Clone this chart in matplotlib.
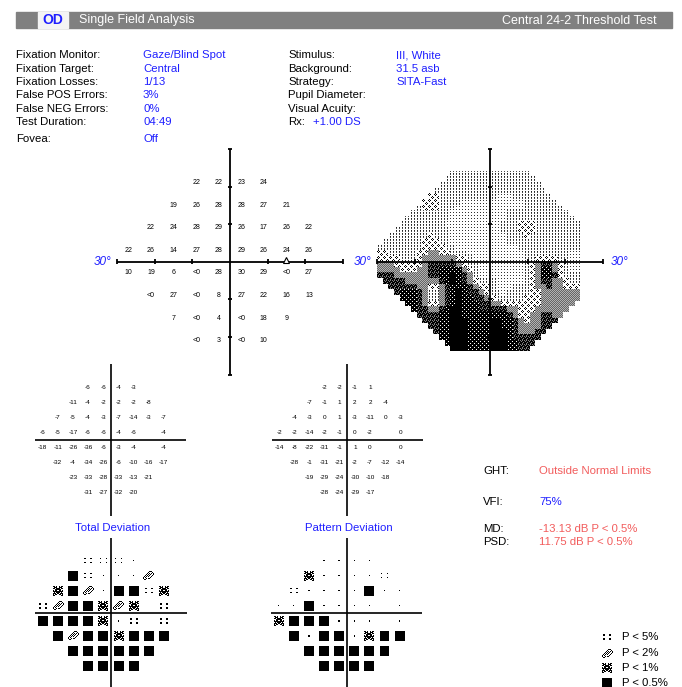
import numpy as np
import matplotlib
matplotlib.use('Agg')
import matplotlib.pyplot as plt
from matplotlib.patches import Rectangle
from matplotlib.collections import PatchCollection

plt.rcParams['font.family'] = ['Liberation Sans', 'DejaVu Sans']

W, H = 682, 687
fig = plt.figure(figsize=(W / 100, H / 100), dpi=100)
BLUE = '#1f1fff'
RED = '#f25c5c'

# ---------------- data ----------------
ROW_Y = [21, 15, 9, 3, -3, -9, -15, -21]
ROW_X0 = [-9, -15, -21, -27, -27, -21, -15, -9]

# threshold values in dB (-1 means "<0")
threshold = [
    [22, 22, 23, 24],
    [19, 26, 28, 28, 27, 21],
    [22, 24, 28, 29, 26, 17, 26, 22],
    [22, 26, 14, 27, 28, 29, 26, 24, 26],
    [10, 19, 6, -1, 28, 30, 29, -1, 27],
    [-1, 27, -1, 8, 27, 22, 16, 13],
    [7, -1, 4, -1, 18, 9],
    [-1, 3, -1, 10],
]
total_dev = [
    [-6, -6, -4, -3],
    [-11, -4, -2, -2, -2, -8],
    [-7, -5, -4, -3, -7, -14, -3, -7],
    [-6, -5, -17, -6, -6, -4, -6, None, -4],
    [-18, -11, -26, -36, -6, -3, -4, None, -4],
    [-32, -4, -34, -26, -6, -10, -16, -17],
    [-23, -33, -28, -33, -13, -21],
    [-31, -27, -32, -20],
]
pattern_dev = [
    [-2, -2, -1, 1],
    [-7, -1, 1, 2, 2, -4],
    [-4, -3, 0, 1, -3, -11, 0, -3],
    [-2, -2, -14, -2, -1, 0, -2, None, 0],
    [-14, -8, -22, -31, -1, 1, 0, None, 0],
    [-28, -1, -31, -21, -2, -7, -12, -14],
    [-19, -29, -24, -30, -10, -18],
    [-28, -24, -29, -17],
]
# probability codes: 0 normal, 1 P<5%, 2 P<2%, 3 P<1%, 4 P<0.5%
total_prob = [
    [1, 1, 1, 0],
    [4, 1, 0, 0, 0, 2],
    [3, 4, 2, 0, 4, 4, 1, 3],
    [1, 2, 4, 4, 3, 2, 3, None, 1],
    [4, 4, 4, 4, 3, 0, 1, None, 1],
    [4, 2, 4, 4, 3, 4, 4, 4],
    [4, 4, 4, 4, 4, 4],
    [4, 4, 4, 4],
]
pattern_prob = [
    [0, 0, 0, 0],
    [3, 0, 0, 0, 0, 1],
    [1, 0, 0, 0, 0, 4, 0, 0],
    [0, 0, 4, 0, 0, 0, 0, None, 0],
    [3, 4, 4, 4, 0, 0, 0, None, 0],
    [4, 0, 4, 4, 0, 3, 4, 4],
    [4, 4, 4, 4, 4, 4],
    [4, 4, 4, 4],
]
legend_codes = [1, 2, 3, 4]
legend_labels = ['P < 5%', 'P < 2%', 'P < 1%', 'P < 0.5%']

left_labels = ['Fixation Monitor:', 'Fixation Target:', 'Fixation Losses:',
               'False POS Errors:', 'False NEG Errors:', 'Test Duration:', 'Fovea:']
left_values = ['Gaze/Blind Spot', 'Central', '1/13', '3%', '0%', '04:49', 'Off']
mid_labels = ['Stimulus:', 'Background:', 'Strategy:', 'Pupil Diameter:',
              'Visual Acuity:', 'Rx:']
mid_values = ['III, White', '31.5 asb', 'SITA-Fast', '', '', '']
rx_value = '+1.00 DS'


def field_points(rows):
    for r, (y, x0) in enumerate(zip(ROW_Y, ROW_X0)):
        for k, v in enumerate(rows[r]):
            yield x0 + 6 * k, y, v


def field_ax(cx, cy, half):
    ax = fig.add_axes([(cx - half) / W, 1 - (cy + half) / H, 2 * half / W, 2 * half / H])
    ax.set_xlim(-30, 30)
    ax.set_ylim(-30, 30)
    ax.set_axis_off()
    return ax


def cross(ax, lw, ticks=False, tl=0.6):
    kw = dict(color='black', lw=lw, clip_on=False, solid_capstyle='butt', zorder=5)
    ax.plot([-30, 30], [0, 0], **kw)
    ax.plot([0, 0], [-30, 30], **kw)
    if ticks:
        for t in [-30, -20, -10, 10, 20, 30]:
            ax.plot([t, t], [-tl, tl], **kw)
            ax.plot([-tl, tl], [t, t], **kw)


BITMAPS = {
    2: ["......###..",
        ".....#...#.",
        "....#.#.#.#",
        "...#.#.#..#",
        "..#.#.#..#.",
        ".#.#.#..#..",
        "#.#....#...",
        "#..#.##....",
        ".##........"],
    3: ["##.#..#.##",
        ".###..###.",
        "##.####.##",
        "..######..",
        "#.##..##.#",
        "##########",
        ".#.####.#.",
        "###.##.###",
        "#.##..##.#",
        "##......##"],
}


def symbol_rects(x, y, code, cell, sign=1):
    rects = []
    if code is None:
        return rects
    if code == 4:
        s = 10 * cell
        rects.append(Rectangle((x - s / 2, y - s / 2), s, s))
    elif code in (2, 3):
        bm = BITMAPS[code]
        nr, nc = len(bm), len(bm[0])
        for r, row in enumerate(bm):
            for c, ch in enumerate(row):
                if ch == '#':
                    cx = x + (c - (nc - 1) / 2) * cell
                    cy = y + sign * ((nr - 1) / 2 - r) * cell
                    rects.append(Rectangle((cx - cell / 2, cy - cell / 2), cell, cell))
    elif code == 1:
        d = 1.7 * cell
        for dx in (-3, 3):
            for dy in (-2, 2):
                rects.append(Rectangle((x + dx * cell - d / 2, y + dy * cell - d / 2), d, d))
    else:
        d = 1.4 * cell
        rects.append(Rectangle((x - d / 2, y - d / 2), d, d))
    return rects


# ---------------- page texts ----------------
page = fig.add_axes([0, 0, 1, 1])
page.set_xlim(0, W)
page.set_ylim(H, 0)
page.set_axis_off()

page.add_patch(Rectangle((16, 12), 656, 16, color='#808080'))
page.add_patch(Rectangle((38, 12), 30, 16, color='#f4f4f4'))
page.text(53, 20.5, 'OD', color=BLUE, fontsize=10, fontweight='bold', ha='center', va='center')
page.text(79, 20.5, 'Single Field Analysis', color='white', fontsize=9, va='center')
page.text(657, 20.5, 'Central 24-2 Threshold Test', color='white', fontsize=9,
          ha='right', va='center')

info_y = [55, 68.5, 82, 95.5, 109, 122, 139]
FS = 8.2
for yy, lab, val in zip(info_y, left_labels, left_values):
    page.text(16, yy, lab, fontsize=FS, va='center')
    page.text(143, yy, val, fontsize=FS, va='center', color=BLUE)
for yy, lab, val in zip(info_y, mid_labels, mid_values):
    page.text(288, yy, lab, fontsize=FS, va='center')
    if val:
        page.text(396, yy, val, fontsize=FS, va='center', color=BLUE)
page.text(313, info_y[5], rx_value, fontsize=FS, va='center', color=BLUE)

page.text(483, 471, 'GHT:', fontsize=FS, va='center')
page.text(539, 471, 'Outside Normal Limits', fontsize=FS, va='center', color=RED)
page.text(483, 502, 'VFI:', fontsize=FS, va='center')
page.text(539, 502, '75%', fontsize=FS, va='center', color=BLUE)
page.text(483, 529, 'MD:', fontsize=FS, va='center')
page.text(539, 529, '-13.13 dB P < 0.5%', fontsize=FS, va='center', color=RED)
page.text(483, 542, 'PSD:', fontsize=FS, va='center')
page.text(539, 542, '11.75 dB P < 0.5%', fontsize=FS, va='center', color=RED)

leg_y = [637, 653, 668, 683]
leg_rects = []
for yy, code, lab in zip(leg_y, legend_codes, legend_labels):
    leg_rects += symbol_rects(607, yy, code, 1.0, sign=-1)
    page.text(622, yy, lab, fontsize=FS, va='center')
page.add_collection(PatchCollection(leg_rects, facecolor='black', edgecolor='none'))

DEG_STYLE = dict(color=BLUE, fontsize=8.5, style='italic', va='center')

# ---------------- threshold plot ----------------
SC = 3.76
ax = field_ax(230, 261.7, 30 * SC)
cross(ax, 1.3, ticks=True)
for x, y, v in field_points(threshold):
    ax.text(x, y, '<0' if v < 0 else str(v), fontsize=5, ha='center', va='center')
ax.plot(15, 0.5, marker='^', ms=4, mfc='white', mec='black', mew=0.8, zorder=6)
ax.text(-31.5, 0, '30°', ha='right', **DEG_STYLE)

# ---------------- gray scale plot ----------------
axg = field_ax(490, 261.7, 30 * SC)
xs_lat = np.arange(-27, 28, 6)
ys_lat = np.arange(21, -22, -6)
grid = np.full((len(ys_lat), len(xs_lat)), np.nan)
for x, y, v in field_points(threshold):
    grid[list(ys_lat).index(y), list(xs_lat).index(x)] = max(v, -1)
known = ~np.isnan(grid)
ki, kj = np.nonzero(known)
for i, j in zip(*np.nonzero(~known)):
    d = (ki - i) ** 2 + (kj - j) ** 2
    near = d == d.min()
    grid[i, j] = grid[ki[near], kj[near]].max()

N = 226
cc = -30 + (np.arange(N) + 0.5) * 60 / N
B = 1.5
cb = (np.floor(cc / B) + 0.5) * B
X, Y = np.meshgrid(cb, cb[::-1])
fx = np.clip((X + 27) / 6, 0, 9)
fy = np.clip((21 - Y) / 6, 0, 7)
j0 = np.minimum(np.floor(fx).astype(int), 8)
i0 = np.minimum(np.floor(fy).astype(int), 6)
tx, ty = fx - j0, fy - i0
val = (grid[i0, j0] * (1 - tx) * (1 - ty) + grid[i0, j0 + 1] * tx * (1 - ty)
       + grid[i0 + 1, j0] * (1 - tx) * ty + grid[i0 + 1, j0 + 1] * tx * ty)
mask = (np.abs(Y) <= 24) & (X >= -30) & (X <= 24) & (np.abs(X) + np.abs(Y) <= 33)
lvl = np.digitize(val, [1, 6, 11, 16, 21, 26])
TILES = [
    [[0.0]],
    [[0, 0, 0, 0], [0, 0, 0, 1], [0, 0, 0, 0], [0, 1, 0, 0]],
    [[0, .5, 0, .5], [.5, 0, 0, 0], [0, 0, .5, 0], [0, .5, 0, 0]],
    [[.4, .7], [.7, .4]],
    [[1, 0, 1, 1, 1, 1], [0, 1, 0, 1, 1, 1], [1, 0, 1, 1, 1, 1],
     [1, 1, 1, 1, 0, 1], [1, 1, 1, 0, 1, 0], [1, 1, 1, 1, 0, 1]],
    [[1, 1, 1], [1, .15, 1], [1, .3, 1]],
    [[1, 1, 1], [1, .2, 1], [1, 1, 1]],
]
R, C = np.indices((N, N))
img = np.ones((N, N))
for k, t in enumerate(TILES):
    t = np.asarray(t, float)
    sel = mask & (lvl == k)
    img[sel] = t[R[sel] % t.shape[0], C[sel] % t.shape[1]]
axg.imshow(np.dstack([img] * 3), extent=(-30, 30, -30, 30), interpolation='nearest',
           aspect='auto', zorder=0)
axg.set_xlim(-30, 30)
axg.set_ylim(-30, 30)
cross(axg, 1.3, ticks=True)
axg.text(-31.5, 0, '30°', ha='right', **DEG_STYLE)
axg.text(32, 0, '30°', ha='left', **DEG_STYLE)

# ---------------- numeric deviation plots ----------------
DS = 2.52
for cx, data in [(110.7, total_dev), (347.3, pattern_dev)]:
    a = field_ax(cx, 440, 30 * DS)
    cross(a, 1.2)
    for x, y, v in field_points(data):
        if v is not None:
            a.text(x, y, str(v), fontsize=4.6, ha='center', va='center')

# ---------------- probability plots ----------------
cell = 1 / DS
for cx, data, title in [(111, total_prob, 'Total Deviation'),
                        (346.7, pattern_prob, 'Pattern Deviation')]:
    a = field_ax(cx, 613.3, 30 * DS)
    cross(a, 1.2)
    rects = []
    for x, y, code in field_points(data):
        rects += symbol_rects(x, y, code, cell)
    a.add_collection(PatchCollection(rects, facecolor='black', edgecolor='none'))
    page.text(cx + 2, 528, title, color=BLUE, fontsize=FS, ha='center', va='center')

fig.savefig('out.png', dpi=100)
